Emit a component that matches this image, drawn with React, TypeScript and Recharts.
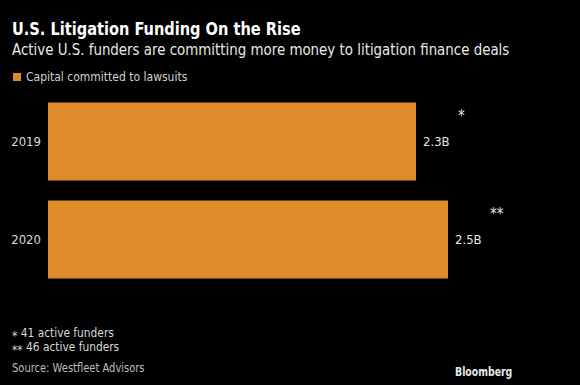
import React from "react";
import { BarChart, Bar, XAxis, YAxis, LabelList } from "recharts";

const years = ["2019", "2020"];
const capital = [2.3, 2.5];
const markers = ["*", "**"];
const footnotes = ["41 active funders", "46 active funders"];

const data = years.map((year, i) => ({
  year,
  capital: capital[i],
  marker: markers[i],
}));

const FONT = '"DejaVu Sans Condensed", "Liberation Sans", Arial, sans-serif';
const ORANGE = "#DE8B2C";

function MarkerLabel(props: any) {
  const { x, y, width, value } = props;
  return (
    <text
      x={Number(x) + Number(width) + 42}
      y={Number(y) + 18}
      fill="#e6e6e6"
      fontSize={15}
      fontFamily={FONT}
      textAnchor="start"
    >
      {value}
    </text>
  );
}

const squeeze = (s: number): React.CSSProperties => ({
  transform: `scaleX(${s})`,
  transformOrigin: "left center",
  whiteSpace: "nowrap",
});

export default function App() {
  return (
    <div
      style={{
        position: "fixed",
        left: 0,
        top: 0,
        width: 580,
        height: 385,
        background: "#000",
        fontFamily: FONT,
        overflow: "hidden",
      }}
    >
      <div style={{ position: "absolute", left: 12, top: 19, color: "#fff", fontSize: 18, fontWeight: 700, lineHeight: "20px", ...squeeze(0.9) }}>
        U.S. Litigation Funding On the Rise
      </div>
      <div style={{ position: "absolute", left: 12, top: 40, color: "#e8e8e8", fontSize: 16, lineHeight: "20px", ...squeeze(0.93) }}>
        Active U.S. funders are committing more money to litigation finance deals
      </div>
      <div style={{ position: "absolute", left: 13, top: 69, color: "#d0d0d0", fontSize: 12, lineHeight: "16px", display: "flex", alignItems: "center", whiteSpace: "nowrap" }}>
        <span style={{ display: "inline-block", width: 8, height: 8, background: ORANGE, marginRight: 5 }} />
        Capital committed to lawsuits
      </div>

      <div style={{ position: "absolute", left: 0, top: 0 }}>
        <BarChart
          width={580}
          height={385}
          data={data}
          layout="vertical"
          margin={{ top: 92.5, right: 52, bottom: 96.5, left: 0 }}
          barSize={78}
        >
          <XAxis type="number" domain={[0, 3]} hide />
          <YAxis
            type="category"
            dataKey="year"
            width={48}
            axisLine={false}
            tickLine={false}
            tickMargin={1}
            tick={{ fill: "#d8d8d8", fontSize: 13, fontFamily: FONT }}
          />
          <Bar dataKey="capital" fill={ORANGE} isAnimationActive={false}>
            <LabelList
              dataKey="capital"
              position="right"
              offset={7}
              formatter={(v: any) => `${v}B`}
              style={{ fill: "#e6e6e6", fontSize: 13, fontFamily: FONT }}
            />
            <LabelList dataKey="marker" content={<MarkerLabel />} />
          </Bar>
        </BarChart>
      </div>

      <div style={{ position: "absolute", left: 12, top: 326, color: "#d8d8d8", fontSize: 13, lineHeight: "14px", ...squeeze(0.91) }}>
        {footnotes.map((f, i) => (
          <div key={i}>
            <span style={{ position: "relative", top: 3 }}>{markers[i]}</span> {f}
          </div>
        ))}
      </div>
      <div style={{ position: "absolute", left: 12, top: 360, color: "#bdbdbd", fontSize: 12, lineHeight: "16px", ...squeeze(0.92) }}>
        Source: Westfleet Advisors
      </div>
      <div style={{ position: "absolute", left: 455, top: 364, color: "#e8e8e8", fontSize: 13, fontWeight: 700, lineHeight: "16px", ...squeeze(0.8) }}>
        Bloomberg
      </div>
    </div>
  );
}
